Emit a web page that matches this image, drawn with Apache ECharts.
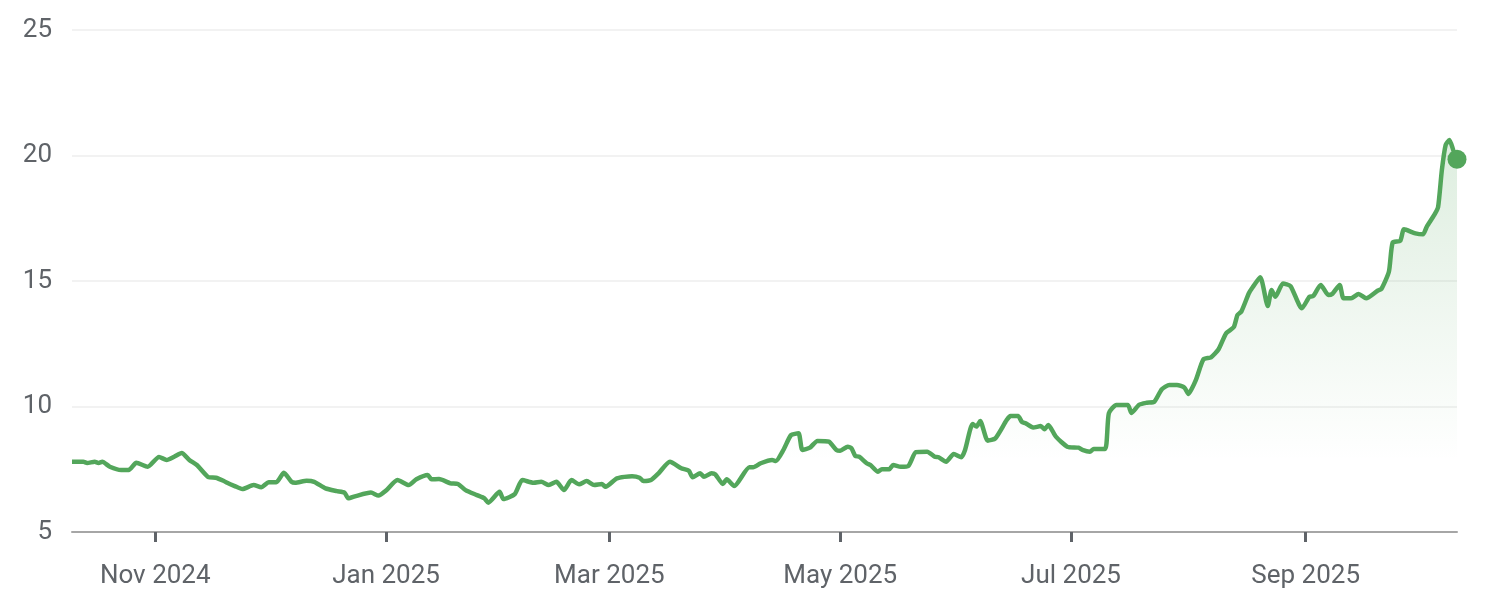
<!DOCTYPE html>
<html>
<head>
<meta charset="utf-8">
<script src="https://cdn.jsdelivr.net/npm/echarts@6/dist/echarts.min.js"></script>
<style>
html,body{margin:0;padding:0;background:#fff;}
#chart{width:1490px;height:616px;}
</style>
</head>
<body>
<div id="chart"></div>
<script>
const dates = [
'2024-10-10','2024-10-13','2024-10-14','2024-10-16','2024-10-17','2024-10-18','2024-10-20','2024-10-23','2024-10-25','2024-10-27','2024-10-30',
'2024-11-02','2024-11-04','2024-11-06','2024-11-08','2024-11-10','2024-11-12','2024-11-15','2024-11-17','2024-11-19','2024-11-20','2024-11-22','2024-11-24','2024-11-27','2024-11-29',
'2024-12-01','2024-12-03','2024-12-05','2024-12-07','2024-12-08','2024-12-11','2024-12-13','2024-12-16','2024-12-19','2024-12-21','2024-12-22','2024-12-24','2024-12-28','2024-12-30',
'2025-01-01','2025-01-04','2025-01-07','2025-01-09','2025-01-12','2025-01-13','2025-01-15','2025-01-18','2025-01-20','2025-01-22','2025-01-25','2025-01-27','2025-01-28','2025-01-31',
'2025-02-01','2025-02-04','2025-02-06','2025-02-09','2025-02-11','2025-02-13','2025-02-15','2025-02-17','2025-02-19','2025-02-21','2025-02-23','2025-02-25','2025-02-27','2025-02-28',
'2025-03-03','2025-03-07','2025-03-09','2025-03-10','2025-03-12','2025-03-14','2025-03-17','2025-03-20','2025-03-22','2025-03-23','2025-03-25','2025-03-26','2025-03-28','2025-03-29','2025-03-31',
'2025-04-01','2025-04-03','2025-04-07','2025-04-08','2025-04-10','2025-04-13','2025-04-14','2025-04-16','2025-04-18','2025-04-20','2025-04-21','2025-04-23','2025-04-25','2025-04-28','2025-04-30',
'2025-05-01','2025-05-03','2025-05-04','2025-05-05','2025-05-06','2025-05-08','2025-05-09','2025-05-11','2025-05-12','2025-05-14','2025-05-15','2025-05-17','2025-05-19','2025-05-21','2025-05-24','2025-05-26','2025-05-27','2025-05-29','2025-05-31',
'2025-06-02','2025-06-03','2025-06-05','2025-06-06','2025-06-07','2025-06-09','2025-06-11','2025-06-14','2025-06-15','2025-06-17','2025-06-18','2025-06-19','2025-06-21','2025-06-23','2025-06-24','2025-06-25','2025-06-27','2025-06-30',
'2025-07-03','2025-07-04','2025-07-06','2025-07-07','2025-07-10','2025-07-11','2025-07-13','2025-07-16','2025-07-17','2025-07-19','2025-07-21','2025-07-23','2025-07-25','2025-07-27','2025-07-29','2025-07-31',
'2025-08-01','2025-08-03','2025-08-05','2025-08-07','2025-08-09','2025-08-11','2025-08-13','2025-08-14','2025-08-15','2025-08-17','2025-08-18','2025-08-20','2025-08-22','2025-08-23','2025-08-24','2025-08-26','2025-08-28','2025-08-31',
'2025-09-02','2025-09-03','2025-09-05','2025-09-07','2025-09-08','2025-09-10','2025-09-11','2025-09-13','2025-09-15','2025-09-17','2025-09-20','2025-09-21','2025-09-23','2025-09-24','2025-09-26','2025-09-27','2025-09-30',
'2025-10-02','2025-10-03','2025-10-05','2025-10-06','2025-10-07','2025-10-08','2025-10-09','2025-10-10','2025-10-11'
];
const prices = [
7.80,7.80,7.75,7.80,7.75,7.80,7.60,7.47,7.47,7.76,7.60,
7.99,7.87,8.00,8.15,7.87,7.67,7.19,7.16,7.04,6.96,6.83,6.71,6.87,6.78,
6.98,6.98,7.36,7.00,6.96,7.04,7.00,6.74,6.63,6.57,6.34,6.43,6.57,6.45,
6.65,7.07,6.87,7.10,7.27,7.10,7.11,6.94,6.91,6.67,6.47,6.34,6.17,6.60,
6.31,6.51,7.07,6.96,7.00,6.87,7.00,6.67,7.07,6.90,7.03,6.87,6.91,6.80,
7.14,7.22,7.16,7.03,7.07,7.34,7.80,7.54,7.44,7.18,7.34,7.20,7.34,7.30,6.91,
7.10,6.83,7.58,7.58,7.74,7.87,7.83,8.27,8.86,8.93,8.27,8.36,8.63,8.60,8.27,
8.24,8.40,8.33,8.03,8.00,7.74,7.67,7.40,7.50,7.50,7.67,7.60,7.63,8.18,8.20,8.00,7.98,7.80,8.11,
7.98,8.27,9.30,9.20,9.42,8.64,8.73,9.46,9.62,9.62,9.39,9.33,9.16,9.22,9.09,9.26,8.80,8.40,
8.36,8.27,8.20,8.31,8.31,9.73,10.06,10.06,9.74,10.07,10.15,10.19,10.69,10.86,10.86,10.75,
10.50,11.06,11.88,11.96,12.28,12.92,13.16,13.65,13.78,14.51,14.75,15.15,14.00,14.64,14.37,14.90,14.80,13.91,
14.37,14.40,14.84,14.44,14.48,14.84,14.31,14.31,14.48,14.31,14.61,14.68,15.37,16.53,16.60,17.06,16.90,
16.86,17.16,17.63,17.94,19.42,20.42,20.62,20.22,19.85
];
const tickDates = ['2024-11-01','2025-01-01','2025-03-01','2025-05-01','2025-07-01','2025-09-01'];
const tickLabels = ['Nov 2024','Jan 2025','Mar 2025','May 2025','Jul 2025','Sep 2025'];

function toTime(s){ const p = s.split('-').map(Number); return new Date(p[0], p[1]-1, p[2]).getTime(); }
const tickTimes = tickDates.map(toTime);
const green = '#53a65b';

const chart = echarts.init(document.getElementById('chart'), null, {renderer:'canvas'});
const option = {
  animation: false,
  backgroundColor: '#ffffff',
  grid: {left: 72, right: 33, top: 30, bottom: 84},
  xAxis: {
    type: 'value',
    min: toTime('2024-10-10'),
    max: toTime('2025-10-11'),
    axisLine: {show: true, lineStyle: {color: '#a6a6a6', width: 2}},
    axisTick: {show: true, customValues: tickTimes, length: 10, lineStyle: {color: '#5f6368', width: 3}},
    axisLabel: {
      customValues: tickTimes,
      showMinLabel: true, showMaxLabel: true,
      color: '#5f6368', fontSize: 26, fontFamily: 'Roboto', margin: 31,
      formatter: function (v) {
        let best = 0, bd = Infinity;
        tickTimes.forEach((t, i) => { const d = Math.abs(t - v); if (d < bd) { bd = d; best = i; } });
        return tickLabels[best];
      }
    },
    splitLine: {show: false},
    minorTick: {show: false}
  },
  yAxis: {
    type: 'value', min: 5, max: 25, interval: 5,
    axisLine: {show: false}, axisTick: {show: false},
    axisLabel: {color: '#5f6368', fontSize: 26, fontFamily: 'Roboto', margin: 20},
    splitLine: {lineStyle: {color: '#eeeeee', width: 1.5}}
  },
  series: [
    {
      type: 'line',
      data: dates.map((d, i) => [toTime(d), prices[i]]),
      showSymbol: false,
      smooth: 0.2,
      lineStyle: {color: green, width: 4.5},
      areaStyle: {
        color: new echarts.graphic.LinearGradient(0, 0, 0, 1, [
          {offset: 0, color: 'rgba(83,166,91,0.28)'},
          {offset: 0.82, color: 'rgba(83,166,91,0)'},
          {offset: 1, color: 'rgba(83,166,91,0)'}
        ])
      },
      z: 3
    },
    {
      type: 'scatter',
      data: [[toTime(dates[dates.length - 1]), prices[prices.length - 1]]],
      symbol: 'circle', symbolSize: 19,
      itemStyle: {color: green, opacity: 1},
      clip: false,
      z: 5
    }
  ]
};
chart.setOption(option);
</script>
</body>
</html>
